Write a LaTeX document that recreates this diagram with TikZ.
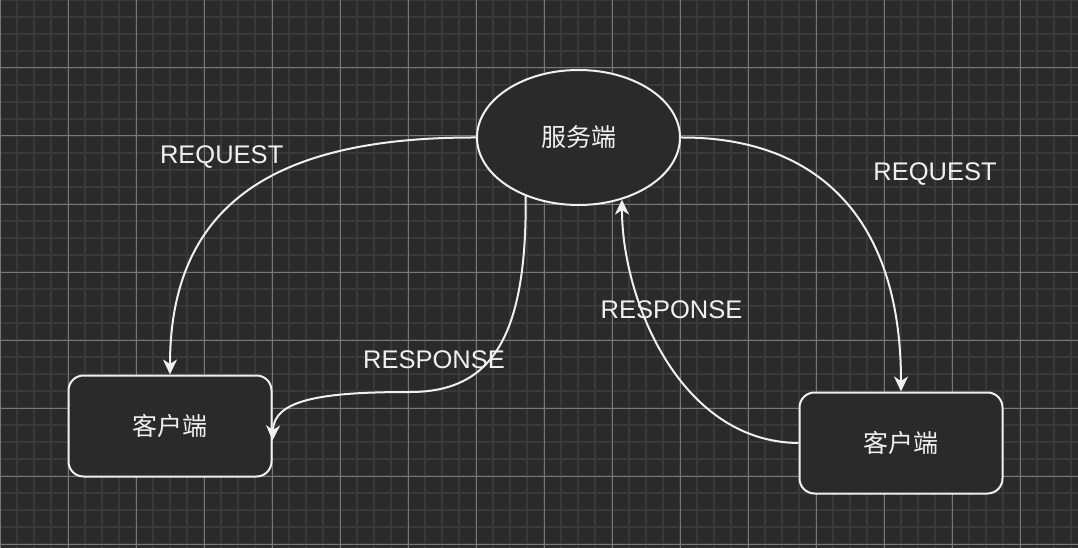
\documentclass[tikz,border=0pt]{standalone}
\usepackage{fontspec}
\setmainfont{Liberation Sans}
\newfontfamily\cjk{Noto Sans CJK SC}
\usetikzlibrary{arrows.meta,shapes.geometric}
\definecolor{bg}{HTML}{2A2A2A}
\definecolor{gminor}{HTML}{393939}
\definecolor{gmajor}{HTML}{787878}
\definecolor{ink}{HTML}{F0F0F0}
\begin{document}
\begin{tikzpicture}[x=1pt,y=-1pt,
  minorline/.style={draw=gminor,line width=1.6pt},
  majorline/.style={draw=gmajor,line width=1pt},
  srvshape/.style={ellipse,draw=ink,line width=2pt,fill=bg,minimum width=203pt,minimum height=135pt,inner sep=0pt,text=ink,font=\cjk\fontsize{25}{30}\selectfont},
  boxshape/.style={rectangle,rounded corners=15pt,draw=ink,line width=2pt,fill=bg,minimum width=203pt,minimum height=101pt,inner sep=0pt,text=ink,font=\cjk\fontsize{25}{30}\selectfont},
  edge/.style={draw=ink,line width=2pt,-{Stealth[length=15pt,width=14pt,inset=4.5pt]}},
  lbl/.style={text=ink,font=\fontsize{25.5}{30}\selectfont,inner sep=0pt}]
\fill[bg] (0,0) rectangle (1078,548);
\useasboundingbox (0,0) rectangle (1078,548);
% grid
\foreach \i in {0,...,63} \draw[minorline] (\i*17,0) -- (\i*17,548);
\foreach \j in {0,...,32} \draw[minorline] (0,\j*17) -- (1078,\j*17);
\foreach \i in {0,...,15} \draw[majorline] (\i*68,0) -- (\i*68,548);
\foreach \j in {0,...,8} \draw[majorline] (0,\j*68) -- (1078,\j*68);
% nodes
\node[srvshape] (srv) at (578.5,137.5) {服务端};
\node[boxshape] (c1) at (170,426) {客户端};
\node[boxshape] (c2) at (901,443) {客户端};
% edges
\draw[edge] (srv.west) .. controls (280,137) and (170,200) .. (c1.north);
\draw[edge] (srv.east) .. controls (810,137) and (901,210) .. (c2.north);
\draw[edge] (srv.228) .. controls (527,340) and (490,392) .. (410,392)
  .. controls (320,392) and (274,400) .. (c1.-8);
\draw[edge] (c2.west) .. controls (680,442) and (622,300) .. (srv.-55);
% labels
\node[lbl] (l1) at (221.7,157) {REQUEST};
\node[lbl] (l2) at (935,174) {REQUEST};
\node[lbl] (l3) at (434,359.5) {RESPONSE};
\node[lbl] (l4) at (671.5,309.5) {RESPONSE};
\end{tikzpicture}
\end{document}
